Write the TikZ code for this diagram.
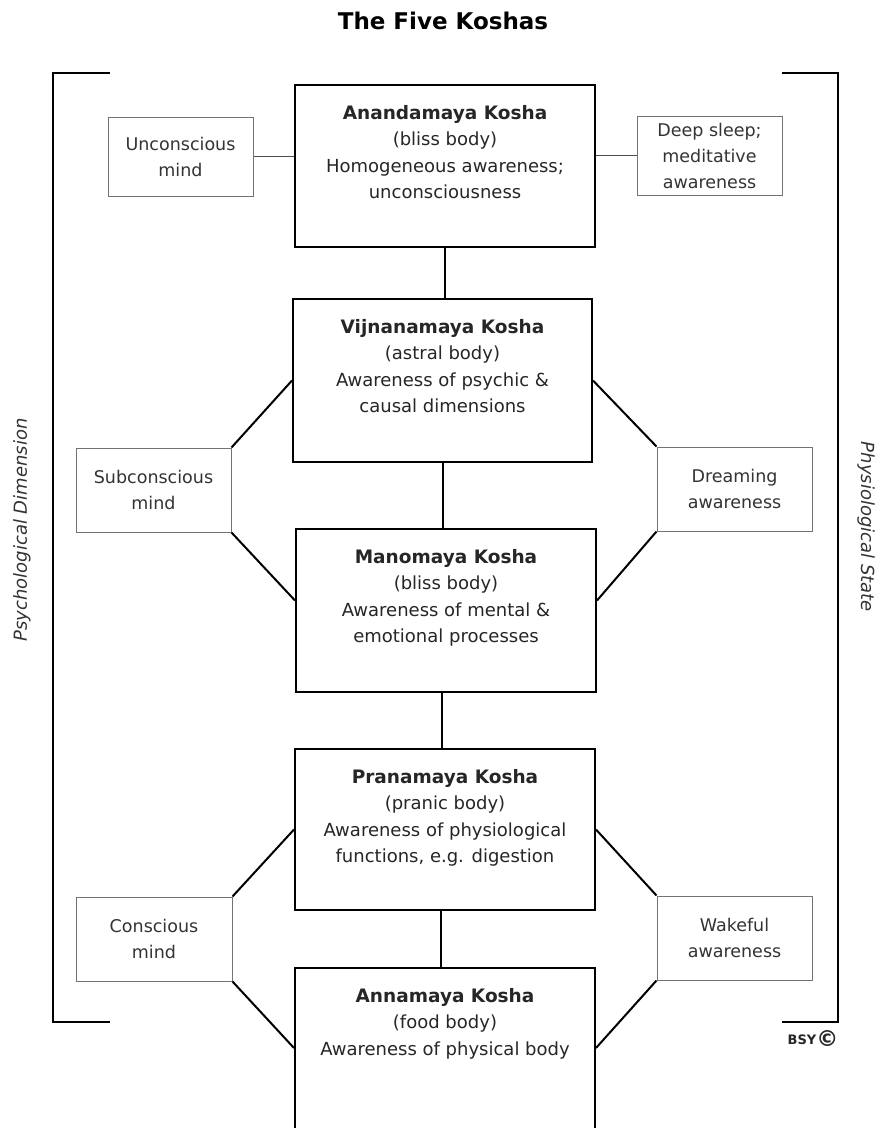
\documentclass[tikz,border=0pt]{standalone}
\usepackage{fontspec}
\setmainfont{DejaVu Sans}
\usetikzlibrary{calc}
\begin{document}
\begin{tikzpicture}[x=1pt,y=-1pt,
  kbox/.style={draw=black, line width=2pt, minimum width=300pt, minimum height=162pt, inner sep=0pt},
  ktext/.style={align=center, anchor=north, inner sep=0pt, text=black!85, font=\fontsize{18}{26.5}\selectfont},
  sbox/.style={draw=black!55, line width=1pt, minimum width=155pt, minimum height=84pt, inner sep=0pt, align=center, text=black!80, font=\fontsize{17.5}{26}\selectfont},
  link/.style={line width=2pt, black},
  thinlink/.style={line width=1.2pt, black!70},
  bracket/.style={line width=2.5pt, black},
  sidelabel/.style={text=black!80, font=\itshape\fontsize{18}{20}\selectfont}]
\clip (0,0) rectangle (879,1128);
\fill[white] (0,0) rectangle (879,1128);

\newcommand{\kt}[1]{{\bfseries\fontsize{18.5}{26.5}\selectfont #1}}

% title
\node[font=\bfseries\fontsize{23}{26}\selectfont, text=black] (title) at (443,21) {The Five Koshas};

% brackets
\coordinate (lbt) at (110,73);
\coordinate (lbb) at (110,1022);
\coordinate (rbt) at (782,73);
\coordinate (rbb) at (782,1022);
\draw[bracket] (lbt) -- (53,73) -- (53,1022) -- (lbb);
\draw[bracket] (rbt) -- (838,73) -- (838,1022) -- (rbb);

\node[sidelabel, rotate=90] (psy) at (22,530) {Psychological Dimension};
\node[sidelabel, rotate=-90] (phy) at (866,527) {Physiological State};

% main boxes
\node[kbox] (anan) at (445,166) {};
\node[kbox, minimum width=299pt, minimum height=163pt] (vijn) at (442.5,380.5) {};
\node[kbox, minimum height=163pt] (mano) at (446,610.5) {};
\node[kbox, minimum height=161pt] (pran) at (445,829.5) {};
\node[kbox, minimum height=200pt, anchor=north] (anna) at (445,967) {};

\node[ktext] (anant) at ($(anan.north)+(0,21)$) {\kt{Anandamaya Kosha}\\(bliss body)\\Homogeneous awareness;\\unconsciousness};
\node[ktext] (vijnt) at ($(vijn.north)+(0,21)$) {\kt{Vijnanamaya Kosha}\\(astral body)\\Awareness of psychic \&\\causal dimensions};
\node[ktext] (manot) at ($(mano.north)+(0,21)$) {\kt{Manomaya Kosha}\\(bliss body)\\Awareness of mental \&\\emotional processes};
\node[ktext] (prant) at ($(pran.north)+(0,21)$) {\kt{Pranamaya Kosha}\\(pranic body)\\Awareness of physiological\\functions, e.g. digestion};
\node[ktext] (annat) at ($(anna.north)+(0,21)$) {\kt{Annamaya Kosha}\\(food body)\\Awareness of physical body};

% side boxes
\node[sbox, minimum width=145pt, minimum height=79pt] (unc) at (180.5,156.5) {Unconscious\\mind};
\node[sbox, minimum width=145pt, minimum height=79pt] (deep) at (709.5,155.5) {Deep sleep;\\meditative\\awareness};
\node[sbox] (sub) at (153.5,490) {Subconscious\\mind};
\node[sbox] (dream) at (734.5,489) {Dreaming\\awareness};
\node[sbox, minimum width=156pt] (consc) at (154,939) {Conscious\\mind};
\node[sbox] (wake) at (734.5,938) {Wakeful\\awareness};

% connectors
\draw[thinlink] (unc.east) -- (unc.east -| anan.west);
\draw[thinlink] (deep.west) -- (deep.west -| anan.east);

\draw[link] (anan.south) -- (anan.south |- vijn.north);
\draw[link] (vijn.south) -- (vijn.south |- mano.north);
\draw[link] ([xshift=-3pt]pran.north |- mano.south) -- ([xshift=-3pt]pran.north);
\draw[link] ([xshift=-4pt]anna.north |- pran.south) -- ([xshift=-4pt]anna.north);

\draw[link] (sub.north east) -- (vijn.west);
\draw[link] (sub.south east) -- ([yshift=10pt]mano.west);
\draw[link] (dream.north west) -- (vijn.east);
\draw[link] (dream.south west) -- ([yshift=10pt]mano.east);

\draw[link] (consc.north east) -- (pran.west);
\draw[link] (consc.south east) -- ([yshift=20pt]anna.west);
\draw[link] (wake.north west) -- (pran.east);
\draw[link] (wake.south west) -- ([yshift=20pt]anna.east);

% logo
\node[font=\bfseries\fontsize{13}{14}\selectfont, text=black!85, inner sep=0pt] (logo) at (813,1039) {BSY\raisebox{-2pt}{\fontsize{22}{22}\selectfont ©}};
\end{tikzpicture}
\end{document}
